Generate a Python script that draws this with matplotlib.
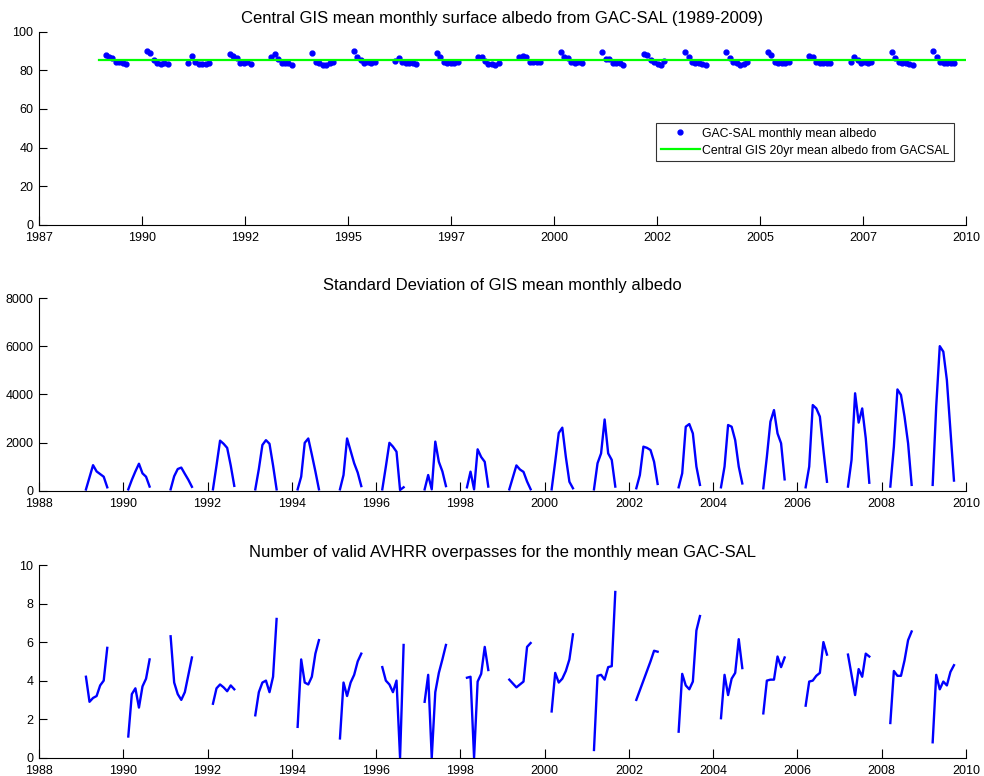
import numpy as np
import matplotlib
matplotlib.use("Agg")
import matplotlib.pyplot as plt

plt.rcParams['font.family'] = ['Liberation Sans', 'DejaVu Sans']

# ---- data -------------------------------------------------------------
years = list(range(1989, 2010))          # 21 seasons, Feb..Aug monthly means

albedo = [
    [87.9, 87.1, 86.2, 84.5, 84.5, 84.0, 83.1],   # 1989
    [90.2, 88.8, 85.5, 84.0, 83.2, 83.8, 83.1],   # 1990
    [84.0, 87.4, 84.2, 83.2, 83.1, 83.5, 84.0],   # 1991
    [88.4, 87.4, 86.2, 84.0, 84.0, 84.5, 83.1],   # 1992
    [87.1, 88.4, 85.7, 83.6, 84.0, 84.0, 82.8],   # 1993
    [88.8, 84.5, 83.6, 82.8, 82.8, 83.6, 84.5],   # 1994
    [90.2, 87.1, 85.3, 84.0, 84.5, 84.0, 84.5],   # 1995
    [85.0, 86.2, 84.5, 84.0, 83.6, 83.6, 83.3],   # 1996
    [88.8, 87.1, 84.5, 84.0, 84.0, 84.0, 84.5],   # 1997
    [87.1, 86.7, 85.0, 83.3, 83.3, 82.8, 84.0],   # 1998
    [86.7, 87.4, 86.7, 84.5, 84.2, 84.5, 84.3],   # 1999
    [89.4, 86.7, 86.2, 84.5, 84.0, 84.5, 84.0],   # 2000
    [89.7, 85.7, 85.7, 84.0, 84.0, 84.0, 82.8],   # 2001
    [88.4, 88.2, 85.5, 84.5, 83.5, 82.6, 84.8],   # 2002
    [89.7, 86.7, 84.5, 84.0, 84.0, 83.3, 82.8],   # 2003
    [89.7, 86.2, 84.5, 83.6, 82.8, 83.3, 84.5],   # 2004
    [89.7, 87.9, 84.5, 84.0, 84.0, 84.0, 84.5],   # 2005
    [87.4, 87.1, 84.5, 84.0, 84.0, 84.0, 84.0],   # 2006
    [84.5, 86.7, 85.3, 84.0, 84.5, 84.0, 84.5],   # 2007
    [89.7, 86.2, 84.5, 84.0, 83.6, 83.3, 82.8],   # 2008
    [90.2, 87.1, 84.5, 84.0, 84.0, 84.0, 83.6],   # 2009
]
mean_albedo = 85.2
mean_line_span = [1988.95, 2010.0]

albedo_std = [
    [50, 560, 1060, 800, 690, 580, 140],
    [55, 450, 800, 1120, 720, 580, 170],
    [55, 600, 900, 960, 700, 450, 160],
    [55, 1050, 2080, 1950, 1780, 1050, 200],
    [55, 900, 1900, 2100, 1950, 1050, 55],
    [55, 580, 1990, 2170, 1500, 800, 55],
    [55, 650, 2170, 1650, 1140, 750, 190],
    [55, 1000, 1990, 1830, 1620, 30, 140],
    [55, 650, 55, 2040, 1200, 800, 190],
    [140, 790, 55, 1720, 1400, 1200, 170],
    [55, 550, 1050, 880, 780, 380, 60],
    [55, 1200, 2400, 2620, 1400, 370, 100],
    [55, 1140, 1550, 2960, 1550, 1280, 170],
    [100, 650, 1830, 1780, 1690, 1200, 280],
    [140, 720, 2660, 2770, 2380, 1000, 240],
    [140, 1000, 2730, 2660, 2100, 1000, 300],
    [100, 1410, 2870, 3350, 2380, 1970, 470],
    [140, 1000, 3560, 3420, 3080, 1690, 370],
    [170, 1280, 4050, 2830, 3420, 2180, 330],
    [170, 1830, 4210, 3980, 3080, 1970, 240],
    [240, 3500, 6010, 5780, 4600, 2520, 420],
]

overpasses = [
    [4.2, 2.9, 3.1, 3.2, 3.75, 4.0, 5.7],
    [1.1, 3.3, 3.6, 2.6, 3.7, 4.1, 5.1],
    [6.3, 3.9, 3.3, 3.0, 3.4, 4.3, 5.2],
    [2.8, 3.6, 3.8, 3.65, 3.45, 3.75, 3.55],
    [2.2, 3.4, 3.9, 4.0, 3.4, 4.2, 7.2],
    [1.6, 5.1, 3.9, 3.8, 4.2, 5.4, 6.1],
    [1.0, 3.9, 3.2, 3.9, 4.3, 5.0, 5.4],
    [4.7, 4.0, 3.8, 3.4, 4.0, 0.0, 5.85],
    [2.9, 4.3, 0.0, 3.4, 4.4, 5.1, 5.85],
    [4.15, 4.2, 0.0, 3.95, 4.35, 5.75, 4.55],
    [4.05, 3.85, 3.65, 3.8, 3.95, 5.75, 5.95],
    [2.4, 4.4, 3.9, 4.1, 4.5, 5.1, 6.4],
    [0.4, 4.25, 4.3, 4.05, 4.7, 4.75, 8.6],
    [3.0, 3.5, 4.0, 4.5, 5.0, 5.55, 5.5],
    [1.35, 4.35, 3.75, 3.55, 3.95, 6.6, 7.35],
    [2.05, 4.3, 3.25, 4.1, 4.4, 6.15, 4.65],
    [2.3, 4.0, 4.05, 4.05, 5.25, 4.7, 5.2],
    [2.7, 3.95, 4.0, 4.25, 4.4, 6.0, 5.35],
    [5.35, 4.3, 3.25, 4.6, 4.2, 5.4, 5.25],
    [1.8, 4.5, 4.25, 4.25, 5.05, 6.1, 6.55],
    [0.8, 4.3, 3.55, 3.95, 3.75, 4.45, 4.8],
]

top_tick_labels = ['1987', '1990', '1992', '1995', '1997',
                   '2000', '2002', '2005', '2007', '2010']

# ---- time axis (decimal years, mid-month Feb..Aug) ---------------------
def season_times(k):
    return 1989.115 + k * 1.0047 + np.arange(7) * 0.0843

def with_gaps(values):
    xs, ys = [], []
    for k, row in enumerate(values):
        xs.extend(season_times(k)); ys.extend(row)
        xs.append(np.nan); ys.append(np.nan)
    return np.array(xs), np.array(ys)

# ---- figure ----------------------------------------------------------
fig = plt.figure(figsize=(9.84, 7.76), dpi=100)
L, W = 0.0396, 0.9421
ax1 = fig.add_axes([L, 0.7104, W, 0.2487])
ax2 = fig.add_axes([L, 0.3677, W, 0.2479])
ax3 = fig.add_axes([L, 0.0236, W, 0.2483])

def style(ax):
    for s in ('top', 'right'):
        ax.spines[s].set_visible(False)
    for s in ('left', 'bottom'):
        ax.spines[s].set_linewidth(0.8)
        ax.spines[s].set_color('black')
    ax.tick_params(direction='in', width=0.8, colors='black', labelsize=9)
    ax.tick_params(axis='x', length=6.7, pad=5)
    ax.tick_params(axis='y', length=5.5, pad=4)

title_kw = dict(fontsize=12, pad=6)

# Top: monthly mean albedo
xa, ya = with_gaps(albedo)
ax1.plot(xa, ya, '.', color='#0000ff', markersize=7,
         label='GAC-SAL monthly mean albedo')
ax1.plot(mean_line_span, [mean_albedo, mean_albedo], '-', color='#00ff00',
         linewidth=1.6, label='Central GIS 20yr mean albedo from GACSAL')
ax1.set_xlim(1987.5, 2010)
ax1.set_ylim(0, 100)
ax1.set_xticks(np.linspace(1987.5, 2010, len(top_tick_labels)))
ax1.set_xticklabels(top_tick_labels)
ax1.set_yticks(np.arange(0, 101, 20))
ax1.set_title('Central GIS mean monthly surface albedo from GAC-SAL (1989-2009)',
              **title_kw)
style(ax1)
leg = ax1.legend(loc='upper left', bbox_to_anchor=(0.6656, 0.5285),
                 borderaxespad=0, fontsize=8.8, frameon=True, fancybox=False,
                 handlelength=3.2, handletextpad=0.15, labelspacing=0.4,
                 borderpad=0.4)
leg.get_frame().set_edgecolor('black')
leg.get_frame().set_linewidth(0.8)

# Middle: standard deviation
xs, ys = with_gaps(albedo_std)
ax2.plot(xs, ys, '-', color='#0000ff', linewidth=1.7)
ax2.set_xlim(1988, 2010)
ax2.set_ylim(0, 8000)
ax2.set_xticks(np.arange(1988, 2011, 2))
ax2.set_yticks(np.arange(0, 8001, 2000))
ax2.set_title('Standard Deviation of GIS mean monthly albedo', **title_kw)
style(ax2)

# Bottom: number of valid overpasses
xo, yo = with_gaps(overpasses)
ax3.plot(xo, yo, '-', color='#0000ff', linewidth=1.7)
ax3.set_xlim(1988, 2010)
ax3.set_ylim(0, 10)
ax3.set_xticks(np.arange(1988, 2011, 2))
ax3.set_yticks(np.arange(0, 11, 2))
ax3.set_title('Number of valid AVHRR overpasses for the monthly mean GAC-SAL',
              **title_kw)
style(ax3)

fig.savefig('out.png', dpi=100, facecolor='white')
